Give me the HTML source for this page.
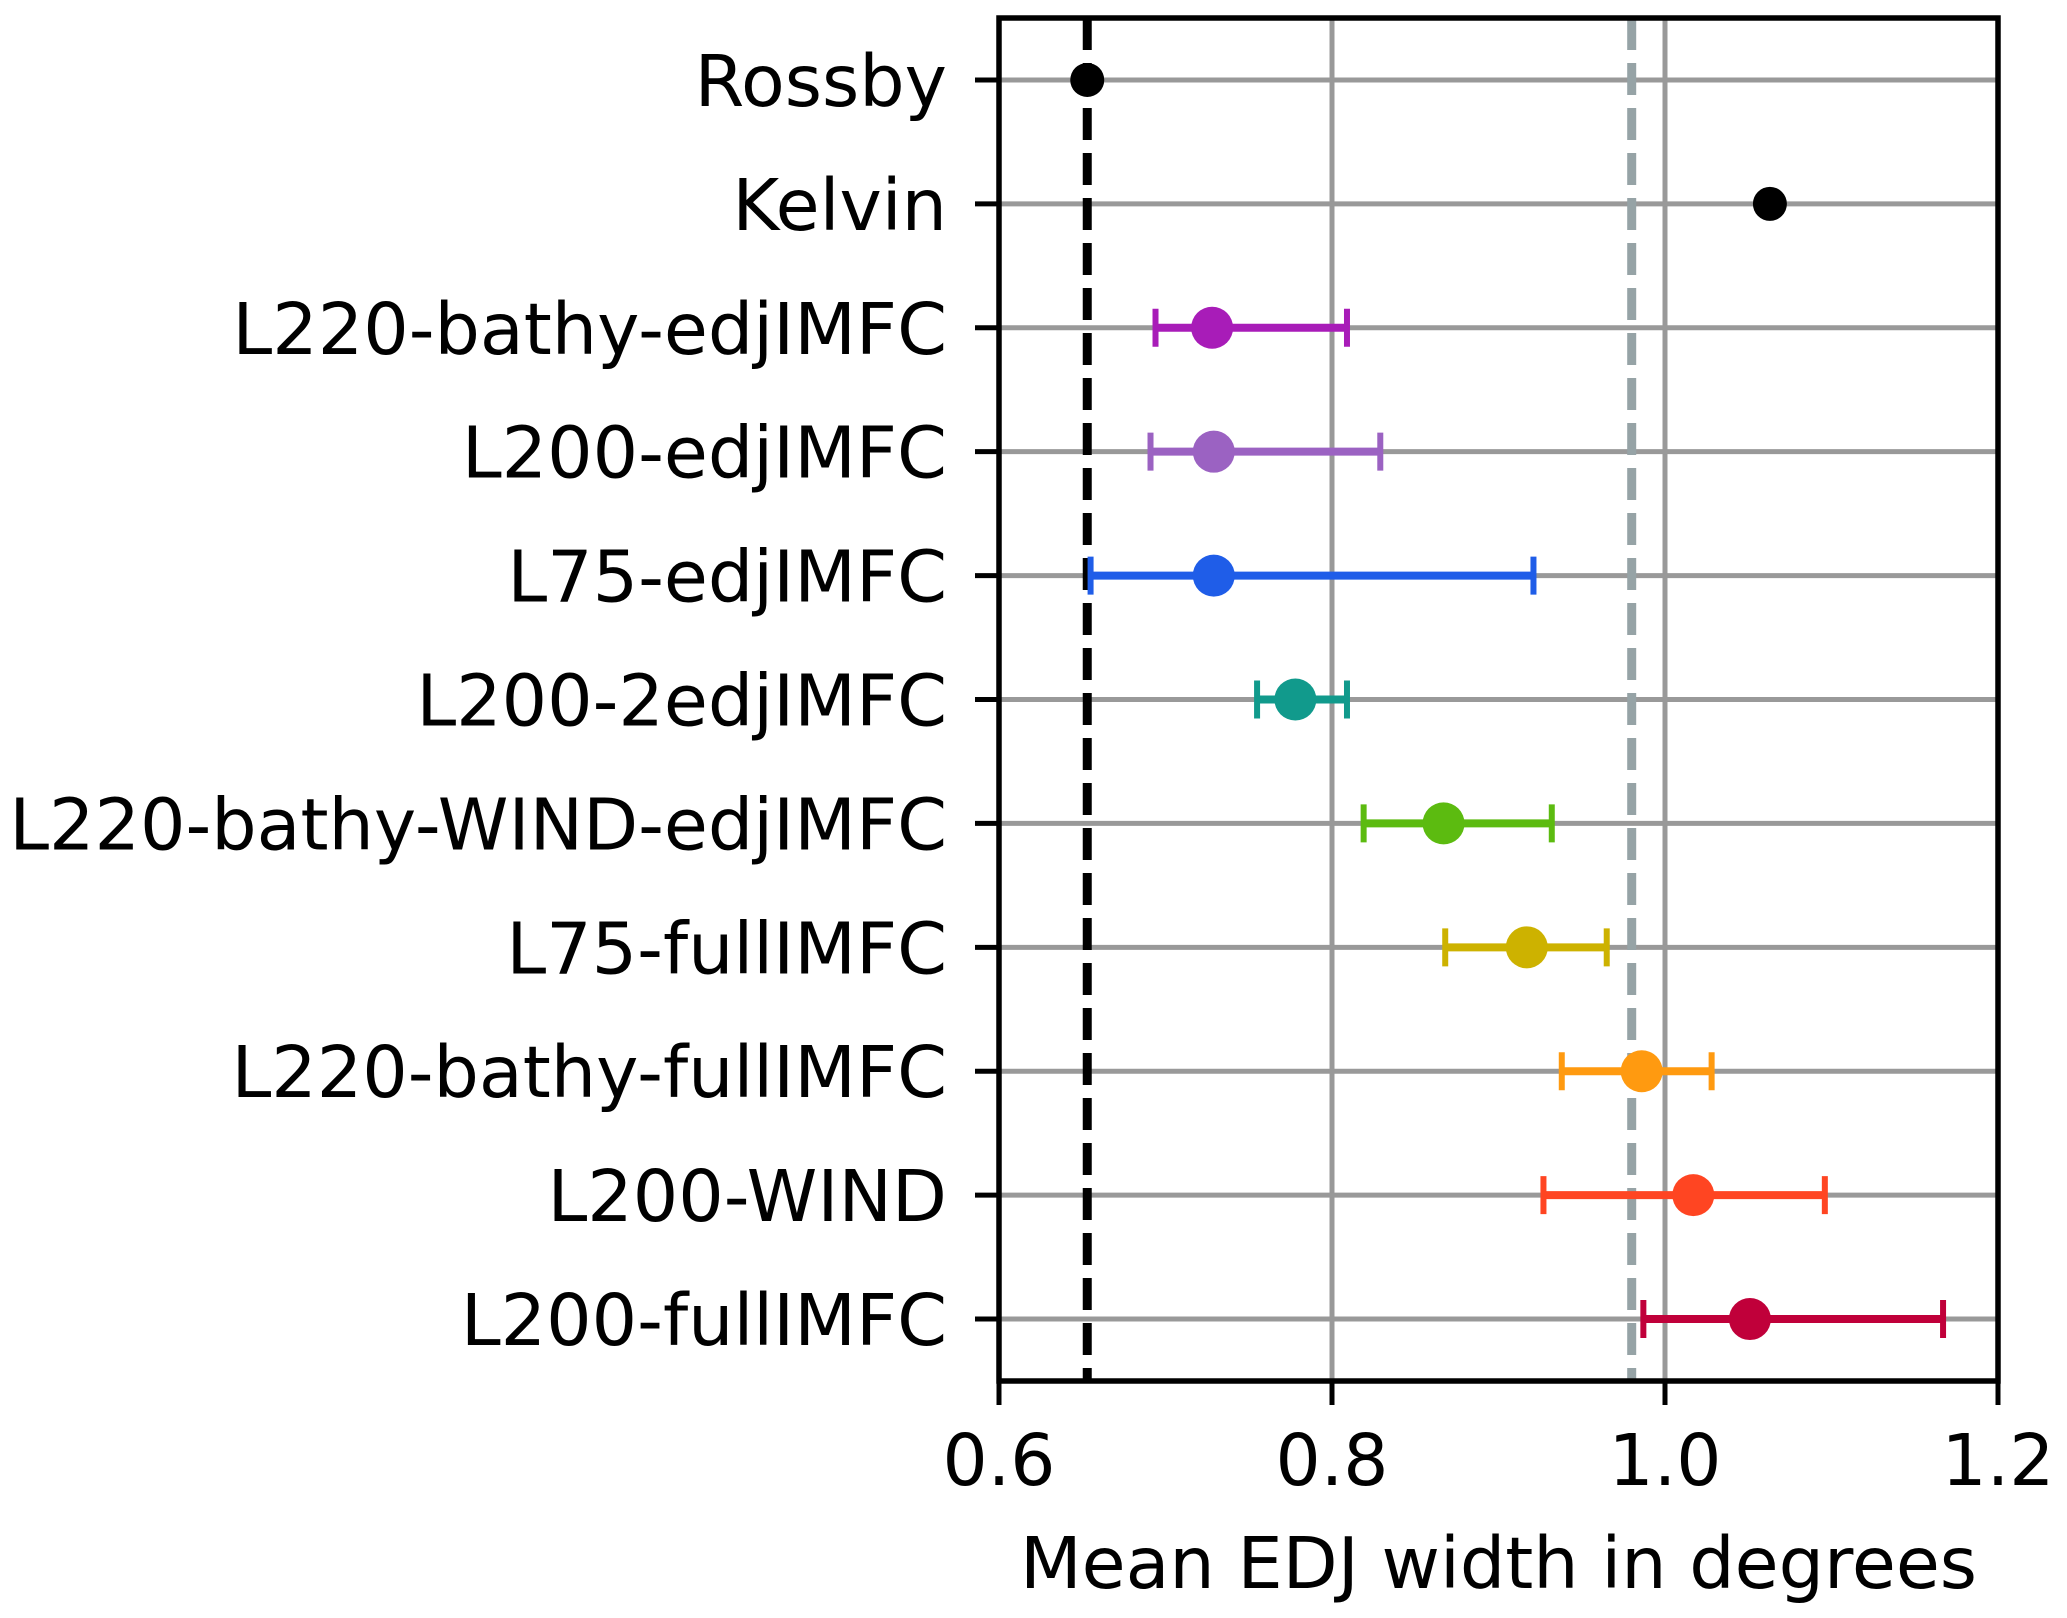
<!DOCTYPE html>
<html><head><meta charset="utf-8"><style>
html,body{margin:0;padding:0;background:#fff;}
svg{display:block;font-family:"DejaVu Sans","Liberation Sans",sans-serif;}
</style></head><body>
<svg id="chart" width="2067" height="1618" viewBox="0 0 2067 1618" xmlns="http://www.w3.org/2000/svg">
<g id="grid"></g>
<g id="refs"></g>
<g id="marks"></g>
<g id="axes"></g>
</svg>
<script>
const categories = ["Rossby","Kelvin","L220-bathy-edjIMFC","L200-edjIMFC","L75-edjIMFC","L200-2edjIMFC","L220-bathy-WIND-edjIMFC","L75-fullIMFC","L220-bathy-fullIMFC","L200-WIND","L200-fullIMFC"];
const means = [0.653,1.063,0.728,0.729,0.729,0.778,0.867,0.917,0.986,1.017,1.051];
const lows  = [null,null,0.694,0.691,0.655,0.755,0.819,0.868,0.938,0.927,0.987];
const highs = [null,null,0.809,0.829,0.921,0.809,0.932,0.965,1.028,1.096,1.167];
const colors = ["#000000","#000000","#a81cb8","#9b62c2","#1f5de8","#119a8c","#5cbb10","#cdb200","#ff9a10","#ff4522","#c0003a"];
const xTicks = [0.6,0.8,1.0,1.2];
const xTickLabels = ["0.6","0.8","1.0","1.2"];
const refBlack = 0.653;
const refGray = 0.980;

const L=999,R=1998,T=18,B=1381,xmin=0.6,xmax=1.2;
const X=v=>L+(v-xmin)/(xmax-xmin)*(R-L);
const step=(B-T)/categories.length;
const Y=i=>T+step*(i+0.5);
const NS="http://www.w3.org/2000/svg";
function mk(tag,attrs,parent){const e=document.createElementNS(NS,tag);for(const k in attrs)e.setAttribute(k,attrs[k]);parent.appendChild(e);return e;}
const grid=document.getElementById('grid'),refs=document.getElementById('refs'),marks=document.getElementById('marks'),axes=document.getElementById('axes');

xTicks.forEach((t,i)=>{
  const g=mk('line',{x1:X(t),x2:X(t),y1:T,y2:B,stroke:'#999',"stroke-width":5},grid);
  
  
  const tk=mk('line',{x1:X(t),x2:X(t),y1:B,y2:B+24,stroke:'#000',"stroke-width":5},axes);
  
  
  const tl=mk('text',{x:X(t),y:1485,"font-size":71,"text-anchor":"middle",fill:'#000'},axes);
  tl.textContent=xTickLabels[i];
  
  
});
categories.forEach((c,i)=>{
  const g=mk('line',{x1:L,x2:R,y1:Y(i),y2:Y(i),stroke:'#999',"stroke-width":5},grid);
  
  
  const tk=mk('line',{x1:L-24,x2:L,y1:Y(i),y2:Y(i),stroke:'#000',"stroke-width":5},axes);
  
  
  const tl=mk('text',{x:947,y:Y(i)+26,"font-size":71.5,"text-anchor":"end",fill:'#000'},axes);
  tl.textContent=c;
  
  
});
const rb=mk('line',{x1:X(refBlack),x2:X(refBlack),y1:T,y2:B,stroke:'#000',"stroke-width":9,"stroke-dasharray":"32 13"},refs);


const rg=mk('line',{x1:X(refGray),x2:X(refGray),y1:T,y2:B,stroke:'#96a3a6',"stroke-width":9,"stroke-dasharray":"32 13"},refs);



categories.forEach((c,i)=>{
  const y=Y(i),col=colors[i];
  if(lows[i]!==null){
    const b=mk('line',{x1:X(lows[i]),x2:X(highs[i]),y1:y,y2:y,stroke:col,"stroke-width":8},marks);
    
    
    [lows[i],highs[i]].forEach(v=>{
      const cap=mk('line',{x1:X(v),x2:X(v),y1:y-19,y2:y+19,stroke:col,"stroke-width":6},marks);
      
      
    });
  }
  const r=(i<2)?17:21;
  const p=mk('circle',{cx:X(means[i]),cy:y,r:r,fill:col},marks);
  
  
});
const frame=mk('rect',{x:L,y:T,width:R-L,height:B-T,fill:'none',stroke:'#000',"stroke-width":5.5},axes);


const xt=mk('text',{x:(L+R)/2,y:1588,"font-size":71.5,"text-anchor":"middle",fill:'#000'},axes);
xt.textContent="Mean EDJ width in degrees";


</script>
</body></html>
